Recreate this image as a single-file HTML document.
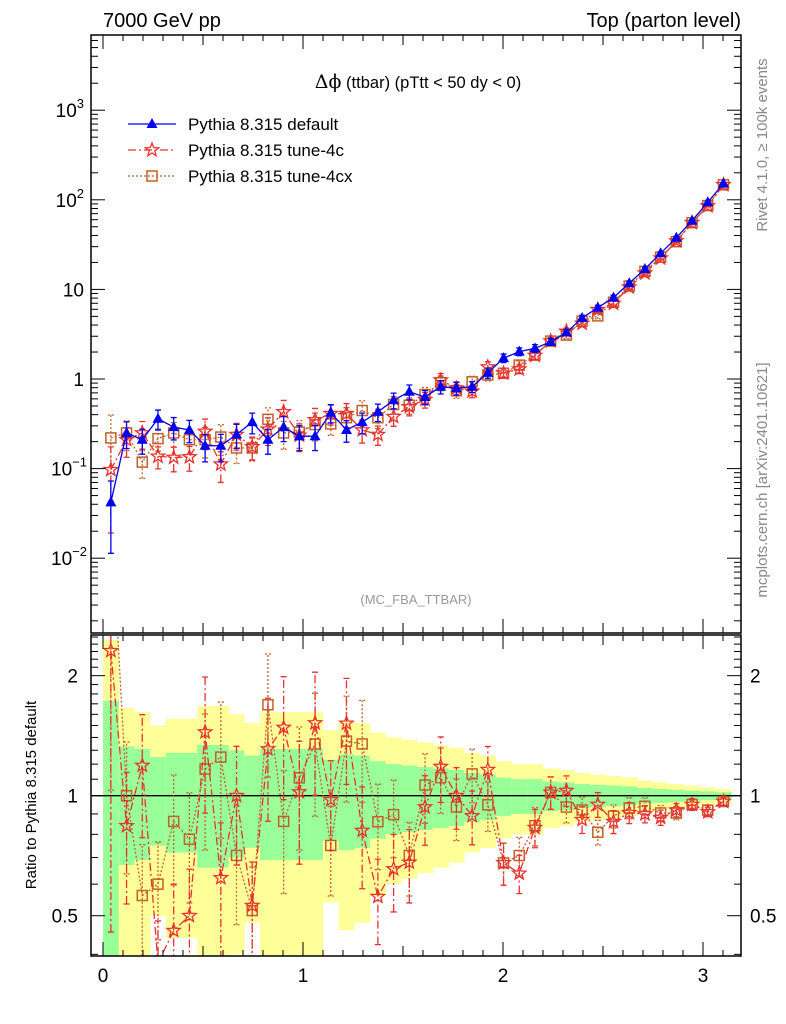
<!DOCTYPE html>
<html><head><meta charset="utf-8"><style>
html,body{margin:0;padding:0;background:#fff;}
svg{display:block;font-family:"Liberation Sans",Arial,sans-serif;}
</style></head><body>
<svg id="chart" width="786" height="1024" viewBox="0 0 786 1024" xmlns="http://www.w3.org/2000/svg">
<g id="bands"></g>
<g id="marks"></g>
<g id="axes"></g>
<text x="103" y="27" font-size="20">7000 GeV pp</text>
<text x="741" y="27" font-size="20" text-anchor="end">Top (parton level)</text>
<text x="418" y="88" font-size="16.5" text-anchor="middle"><tspan font-family="'DejaVu Serif',serif" font-size="19">Δϕ</tspan> (ttbar) (pTtt &lt; 50 dy &lt; 0)</text>
<text x="416" y="604" font-size="13" fill="#999" text-anchor="middle">(MC_FBA_TTBAR)</text>
<text transform="translate(767,145) rotate(-90)" font-size="15" fill="#888" text-anchor="middle">Rivet 4.1.0, ≥ 100k events</text>
<text transform="translate(767,480) rotate(-90)" font-size="15" fill="#888" text-anchor="middle">mcplots.cern.ch [arXiv:2401.10621]</text>
<text transform="translate(36,795) rotate(-90)" font-size="15" text-anchor="middle">Ratio to Pythia 8.315 default</text>
<g id="legend"></g>
</svg>
<script>
const categories = [];
for (let i = 0; i < 40; i++) categories.push((i + 0.5) * Math.PI / 40);
const binWidth = Math.PI / 40;
const seriesDefault = [0.042,0.25,0.21,0.36,0.29,0.27,0.18,0.18,0.24,0.33,0.21,0.29,0.23,0.23,0.42,0.27,0.33,0.43,0.58,0.72,0.63,0.82,0.79,0.82,1.17,1.71,2.02,2.2,2.6,3.3,4.8,6.25,8.1,11.7,16.9,25.3,37.7,58.4,93.8,152];
const seriesTune4c = [0.097,0.21,0.25,0.137,0.133,0.135,0.26,0.112,0.24,0.175,0.275,0.43,0.235,0.35,0.41,0.41,0.27,0.24,0.38,0.49,0.59,0.97,0.79,0.73,1.36,1.16,1.29,1.83,2.65,3.4,4.18,5.94,6.97,10.6,15.2,22.3,34.7,55.5,85.4,147];
const seriesTune4cx = [0.22,0.25,0.118,0.216,0.25,0.21,0.21,0.225,0.17,0.17,0.355,0.25,0.255,0.31,0.315,0.37,0.445,0.37,0.52,0.51,0.67,0.91,0.74,0.93,1.11,1.16,1.43,1.85,2.65,3.09,4.42,5.06,7.2,10.9,15.9,22.9,34.1,55.5,86.3,147];
const relErr = [0.73,0.33,0.31,0.25,0.28,0.28,0.34,0.34,0.30,0.26,0.31,0.31,0.31,0.31,0.23,0.27,0.26,0.22,0.2,0.19,0.18,0.17,0.16,0.14,0.13,0.11,0.10,0.10,0.085,0.08,0.07,0.065,0.06,0.055,0.045,0.04,0.035,0.03,0.025,0.02];
const xTickLabels = ["0","1","2","3"];
const mainYTickExps = [-2,-1,0,1,2,3];
const ratioYTickLabels = ["0.5","1","2"];
const legendLabels = ["Pythia 8.315 default","Pythia 8.315 tune-4c","Pythia 8.315 tune-4cx"];

const NS = "http://www.w3.org/2000/svg";
const L = 91, R = 741, MT = 35, MB = 633, RT = 635, RB = 956;
const xs = v => 103 + 200 * v;
const ym = v => 379 - 89.6 * Math.log10(v);
const yr = v => 795.7 - 398.7 * Math.log10(v);
const clampR = y => Math.max(RT, Math.min(RB, y));
function el(tag, attrs, parent) {
  const e = document.createElementNS(NS, tag);
  for (const k in attrs) e.setAttribute(k, attrs[k]);
  parent.appendChild(e);
  return e;
}
const bands = document.getElementById('bands');
const marks = document.getElementById('marks');
const axes = document.getElementById('axes');
const legend = document.getElementById('legend');

const defs = el('defs', {}, document.getElementById('chart'));
const cm = el('clipPath', {id: 'clipMain'}, defs);
el('rect', {x: L, y: MT, width: R - L, height: MB - MT}, cm);
const cr = el('clipPath', {id: 'clipRatio'}, defs);
el('rect', {x: L, y: RT, width: R - L, height: RB - RT}, cr);

for (let i = 0; i < categories.length; i++) {
  const x0 = xs(categories[i] - binWidth / 2), x1 = xs(categories[i] + binWidth / 2);
  const e = relErr[i];
  const yTop = clampR(yr(1 + 2 * e)), yBot = clampR(2 * e < 1 ? yr(1 - 2 * e) : RB);
  const yb = el('rect', {x: x0, y: yTop, width: x1 - x0 + 0.3, height: yBot - yTop, fill: '#ffff99'}, bands);
  
  
  const gTop = clampR(yr(1 + e)), gBot = clampR(yr(1 - e));
  const gb = el('rect', {x: x0, y: gTop, width: x1 - x0 + 0.3, height: gBot - gTop, fill: '#99ff99'}, bands);
  
  
}
const one = el('line', {x1: L, x2: R, y1: yr(1), y2: yr(1), stroke: '#000', 'stroke-width': 1.3}, marks);



function starPath(cx, cy, r) {
  let d = '';
  for (let k = 0; k < 10; k++) {
    const rr = k % 2 ? r * 0.42 : r;
    const a = -Math.PI / 2 + k * Math.PI / 5;
    d += (k ? 'L' : 'M') + (cx + rr * Math.cos(a)).toFixed(1) + ',' + (cy + rr * Math.sin(a)).toFixed(1);
  }
  return d + 'Z';
}
function marker(type, cx, cy, color, g) {
  let m;
  if (type === 'tri') m = el('path', {d: `M${cx},${cy - 6}L${cx + 5.5},${cy + 4}L${cx - 5.5},${cy + 4}Z`, fill: color}, g);
  else if (type === 'star') m = el('path', {d: starPath(cx, cy, 7), fill: 'none', stroke: color, 'stroke-width': 1.3}, g);
  else m = el('rect', {x: cx - 5, y: cy - 5, width: 10, height: 10, fill: 'none', stroke: color, 'stroke-width': 1.5}, g);
  return m;
}
function drawSeries(vals, yfun, clip, color, dash, type, name, lo, hi) {
  const g = el('g', {'clip-path': 'url(#' + clip + ')'}, marks);
  
  
  const pts = vals.map((v, i) => [xs(categories[i]), yfun(v)]);
  const line = el('polyline', {points: pts.map(p => p.join(',')).join(' '), fill: 'none', stroke: color, 'stroke-width': 1.3, 'stroke-dasharray': dash}, g);
  
  
  vals.forEach((v, i) => {
    const x = pts[i][0];
    const y1 = yfun(lo[i]), y2 = yfun(hi[i]);
    const eb = el('path', {d: `M${x},${y1}L${x},${y2}M${x - 3},${y1}L${x + 3},${y1}M${x - 3},${y2}L${x + 3},${y2}`, stroke: color, 'stroke-width': 1.3, fill: 'none', 'stroke-dasharray': dash}, g);
    
    
    const m = marker(type, x, pts[i][1], color, g);
    
    
  });
}
const BLUE = '#0000ee', RED = '#e8312f', BROWN = '#c0602a';
const lo = (arr, f) => arr.map((v, i) => v * Math.max(0.05, 1 - f * relErr[i]));
const hi = (arr, f) => arr.map((v, i) => v * (1 + f * relErr[i]));
drawSeries(seriesTune4cx, ym, 'clipMain', BROWN, '2,2', 'sq', 'tune-4cx-main', lo(seriesTune4cx, 1.1), hi(seriesTune4cx, 1.1));
drawSeries(seriesTune4c, ym, 'clipMain', RED, '8,3,2,3', 'star', 'tune-4c-main', lo(seriesTune4c, 1.1), hi(seriesTune4c, 1.1));
drawSeries(seriesDefault, ym, 'clipMain', BLUE, 'none', 'tri', 'default-main', lo(seriesDefault, 1), hi(seriesDefault, 1));
const ratio4c = seriesTune4c.map((v, i) => v / seriesDefault[i]);
const ratio4cx = seriesTune4cx.map((v, i) => v / seriesDefault[i]);
drawSeries(ratio4cx, yr, 'clipRatio', BROWN, '2,2', 'sq', 'tune-4cx-ratio', lo(ratio4cx, 1.1), hi(ratio4cx, 1.1));
drawSeries(ratio4c, yr, 'clipRatio', RED, '8,3,2,3', 'star', 'tune-4c-ratio', lo(ratio4c, 1.1), hi(ratio4c, 1.1));

[[MT, MB, 'main-plot-frame'], [RT, RB, 'ratio-plot-frame']].forEach(([t, b, n]) => {
  const f = el('rect', {x: L, y: t, width: R - L, height: b - t, fill: 'none', stroke: '#000', 'stroke-width': 1.5}, axes);
  
  
});
function xTicks(t, b) {
  for (let k = 0; k <= 31; k++) {
    const v = k / 10, x = xs(v);
    if (x > R) break;
    const len = k % 10 === 0 ? 14 : (k % 5 === 0 ? 10 : 6);
    el('line', {x1: x, x2: x, y1: t, y2: t + len, stroke: '#000'}, axes);
    el('line', {x1: x, x2: x, y1: b, y2: b - len, stroke: '#000'}, axes);
  }
}
xTicks(MT, MB); xTicks(RT, RB);
xTickLabels.forEach((s, i) => {
  const t = el('text', {x: xs(+s), y: 982, 'font-size': 19, 'text-anchor': 'middle'}, axes);
  t.textContent = s;
  
  
});
for (let e = -3; e <= 3; e++) {
  for (let m = 1; m <= 9; m++) {
    const y = ym(m * Math.pow(10, e));
    if (y < MT || y > MB) continue;
    const len = m === 1 ? 14 : 7;
    el('line', {x1: L, x2: L + len, y1: y, y2: y, stroke: '#000'}, axes);
    el('line', {x1: R, x2: R - len, y1: y, y2: y, stroke: '#000'}, axes);
  }
}
mainYTickExps.forEach(e => {
  const t = el('text', {x: 84, y: ym(Math.pow(10, e)) + 7, 'font-size': 19, 'text-anchor': 'end'}, axes);
  
  
  if (e === 0) t.textContent = '1';
  else if (e === 1) t.textContent = '10';
  else {
    const a = document.createElementNS(NS, 'tspan'); a.textContent = '10'; t.appendChild(a);
    const b = document.createElementNS(NS, 'tspan'); b.textContent = String(e).replace('-', '−');
    b.setAttribute('dy', '-9'); b.setAttribute('font-size', '13'); t.appendChild(b);
    t.setAttribute('x', e < 0 ? 87 : 84);
  }
});
const rt = [0.4,0.5,0.6,0.7,0.8,0.9,1,1.1,1.2,1.3,1.4,1.5,1.6,1.7,1.8,1.9,2,2.1,2.2,2.3,2.4,2.5];
rt.forEach(v => {
  const y = yr(v);
  if (y < RT || y > RB) return;
  const len = (v === 0.5 || v === 1 || v === 2) ? 14 : 7;
  el('line', {x1: L, x2: L + len, y1: y, y2: y, stroke: '#000'}, axes);
  el('line', {x1: R, x2: R - len, y1: y, y2: y, stroke: '#000'}, axes);
});
ratioYTickLabels.forEach(s => {
  const a = el('text', {x: 78, y: yr(+s) + 7, 'font-size': 19, 'text-anchor': 'end'}, axes);
  a.textContent = s;
  
  
  const b = el('text', {x: 750, y: yr(+s) + 7, 'font-size': 19}, axes);
  b.textContent = s;
  
  
});
const legStyles = [[BLUE, 'none', 'tri'], [RED, '8,3,2,3', 'star'], [BROWN, '2,2', 'sq']];
legendLabels.forEach((s, i) => {
  const y = 124 + i * 26;
  const g = el('g', {}, legend);
  
  
  el('line', {x1: 128, x2: 176, y1: y, y2: y, stroke: legStyles[i][0], 'stroke-width': 1.3, 'stroke-dasharray': legStyles[i][1]}, g);
  marker(legStyles[i][2], 152, y, legStyles[i][0], g);
  const t = el('text', {x: 188, y: y + 6, 'font-size': 17}, g);
  t.textContent = s;
});
</script>
</body></html>
